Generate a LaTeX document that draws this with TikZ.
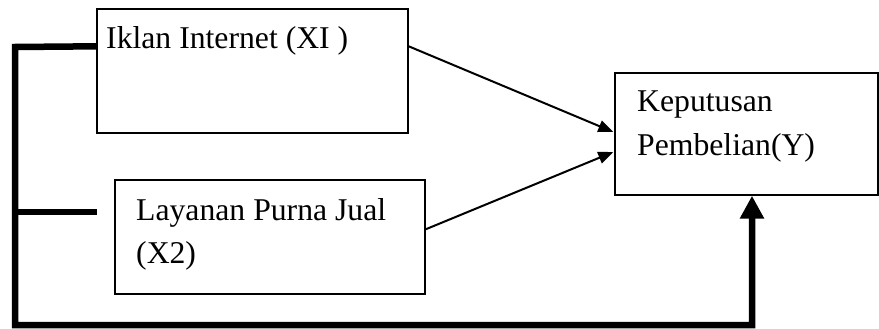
\documentclass[tikz,border=0pt]{standalone}
\usepackage{fontspec}
\setmainfont{Liberation Serif}
\usetikzlibrary{arrows.meta,calc}
\begin{document}
\begin{tikzpicture}[x=1pt,y=-1pt,
  box/.style={draw,line width=1.4pt,rectangle,inner sep=0pt},
  lbl/.style={anchor=base west,inner sep=0pt,font=\fontsize{31.7}{43}\selectfont},
  thinarrow/.style={line width=2pt,-{Triangle[width=12pt,length=15pt]}},
  thickline/.style={line width=6.5pt,line join=miter}]
\useasboundingbox (0,0) rectangle (879,329);
\node[box,minimum width=311pt,minimum height=124pt] (b1) at (252.5,71) {};
\node[box,minimum width=310pt,minimum height=114pt] (b2) at (270,237) {};
\node[box,minimum width=263pt,minimum height=122pt] (b3) at (746.5,134) {};
\node[lbl] (t1) at (106,49) {Iklan Internet (XI )};
\node[lbl] (t2) at (136,220) {Layanan Purna Jual};
\node[lbl] (t3) at (136,263) {(X2)};
\node[lbl] (t4) at (637,112) {Keputusan};
\node[lbl] (t5) at (637,155) {Pembelian(Y)};
\draw[thinarrow] ($(b1.north east)+(0,38)$) -- ($(b3.west)+(-1,-2)$);
\draw[thinarrow] ($(b2.north east)+(0,50)$) -- ($(b3.west)+(-1,18)$);
\coordinate (c1) at (15,47);
\coordinate (c2) at (15,325);
\coordinate (c3) at (752,325);
\coordinate (j) at (15,212);
\coordinate (e2) at (97,212);
\draw[thickline,-{Triangle[width=23pt,length=23pt]}] ($(b1.north west)+(0,38)$) -- (c1) -- (c2) -- (c3) -- ($(b3.south)+(5.5,0)$);
\draw[thickline] (j) -- (e2);
\end{tikzpicture}
\end{document}
